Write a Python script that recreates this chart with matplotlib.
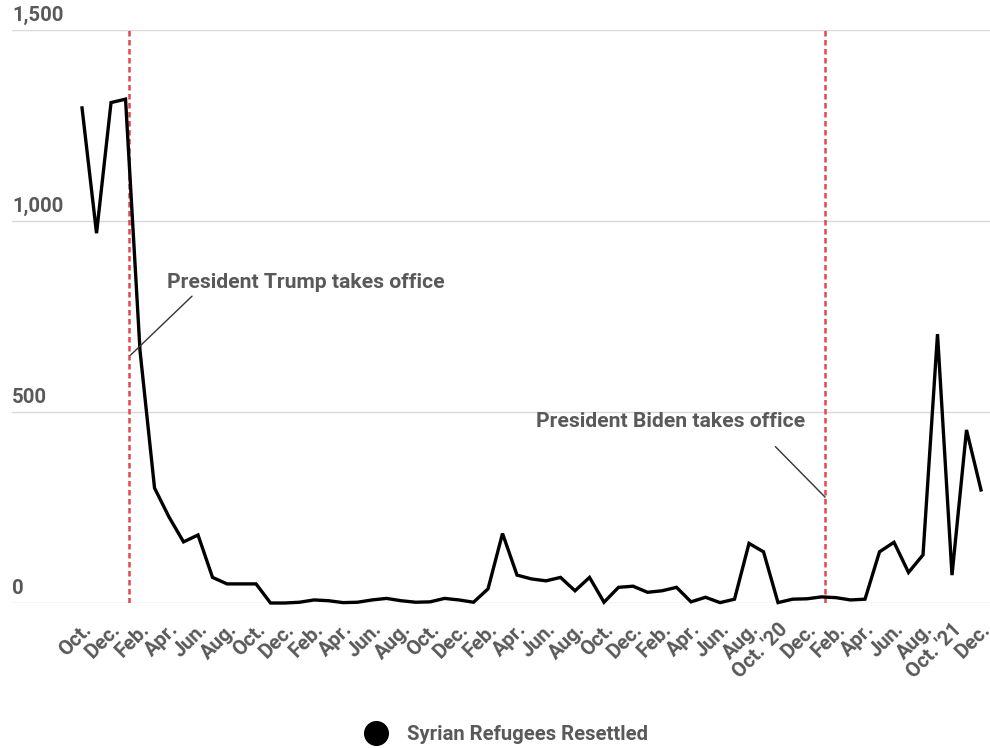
"""Syrian refugees resettled in the US per month, FY2017 to Dec 2021"""

import numpy as np
import matplotlib.pyplot as plt
from matplotlib.lines import Line2D

plt.rcParams['font.family'] = ['Roboto', 'DejaVu Sans']

# monthly arrivals, Oct 2016 .. Dec 2021
refugees = [1296, 968, 1310, 1319, 660, 301, 225, 160, 178, 67,
            50, 50, 50, 0, 0, 2, 8, 6, 1, 2,
            8, 12, 6, 2, 3, 12, 8, 2, 37, 182,
            73, 63, 58, 67, 32, 67, 2, 41, 44, 28,
            32, 41, 3, 15, 1, 10, 156, 134, 1, 10,
            11, 16, 14, 8, 10, 134, 159, 80, 126, 704,
            73, 453, 296]

months = ['Oct.', 'Dec.', 'Feb.', 'Apr.', 'Jun.', 'Aug.']
tick_labels = months * 4 + ["Oct. '20", 'Dec.', 'Feb.', 'Apr.', 'Jun.',
                            'Aug.', "Oct. '21", 'Dec.']
y_ticks = [0, 500, 1000, 1500]
y_tick_labels = ['0', '500', '1,000', '1,500']

# inauguration positions, in months from Oct 2016
trump_x = 3.25
biden_x = 51.25

gray = '#595959'
fsize = 14.6
note_size = 15.2

fig = plt.figure(figsize=(9.9, 7.48), dpi=100)
ax = fig.add_axes([12/990, 145/748, 978/990, 573/748])

x = np.arange(len(refugees))
ax.plot(x, refugees, color='black', lw=2.4, solid_joinstyle='miter',
        zorder=3, clip_on=False)

ax.set_xlim(-4.83, 62.62)
ax.set_ylim(0, 1500)

for v, lab in zip(y_ticks, y_tick_labels):
    ax.axhline(v, color='#d9d9d9', lw=1, zorder=1)
    ax.text(0, v + 12, lab, transform=ax.get_yaxis_transform(),
            ha='left', va='bottom', fontsize=fsize, fontweight='bold',
            color=gray)

ax.set_yticks([])
ax.set_xticks(np.arange(0, len(refugees), 2))
ax.set_xticklabels(tick_labels, rotation=45, ha='right',
                   rotation_mode='anchor', fontsize=fsize,
                   fontweight='bold', color=gray)
ax.tick_params(axis='x', length=0, pad=12)
for s in ax.spines.values():
    s.set_visible(False)

# inauguration markers
for xv in (trump_x, biden_x):
    ax.axvline(xv, color='#e4474b', lw=1.8, ls=(0, (2.2, 1.4)), zorder=2)

ax.annotate('President Trump takes office', xy=(trump_x + 0.1, 649),
            xytext=(5.86, 838), fontsize=note_size, fontweight='bold',
            color=gray, ha='left', va='center',
            arrowprops=dict(arrowstyle='-', color='#333333', lw=1,
                            shrinkA=0, shrinkB=0,
                            relpos=(0.09, -0.2)))
ax.annotate('President Biden takes office', xy=(biden_x, 277),
            xytext=(49.86, 474), fontsize=note_size, fontweight='bold',
            color=gray, ha='right', va='center',
            arrowprops=dict(arrowstyle='-', color='#333333', lw=1,
                            shrinkA=0, shrinkB=0,
                            relpos=(0.89, -0.8)))

handle = Line2D([], [], marker='o', color='black', ls='none', markersize=17)
fig.legend([handle], ['Syrian Refugees Resettled'], loc='center',
           bbox_to_anchor=(0.507, 0.018), frameon=False,
           labelcolor=gray, handletextpad=0.5,
           prop={'weight': 'bold', 'size': fsize})

fig.savefig('out.png', dpi=100)
